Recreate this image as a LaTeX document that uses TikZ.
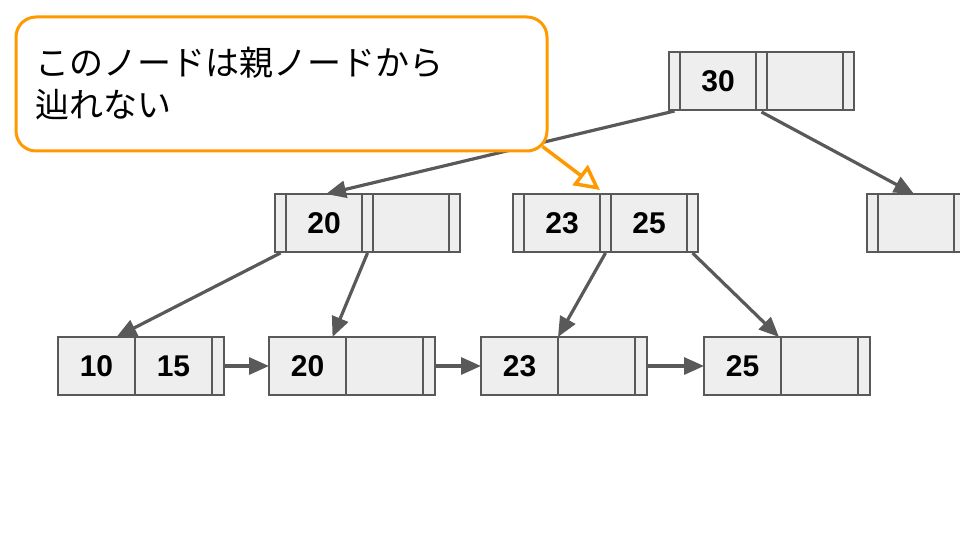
\documentclass[tikz,border=0pt]{standalone}
\usepackage{fontspec}
\setmainfont{Liberation Sans}
\newfontfamily\jpfont{Noto Sans CJK JP}
\usetikzlibrary{arrows.meta,calc}
\definecolor{linegray}{HTML}{595959}
\definecolor{cellfill}{HTML}{EEEEEE}
\definecolor{calloutorange}{HTML}{FF9900}
\tikzset{
  cell/.style={draw=linegray, line width=1.3pt, fill=cellfill, minimum height=58pt,
    inner sep=0pt, outer sep=0pt, anchor=north west,
    font=\fontsize{30}{36}\selectfont\bfseries},
  ptrcell/.style={cell, minimum width=11pt},
  keycell/.style={cell, minimum width=76pt},
  leafptr/.style={cell, minimum width=12pt},
  leafkey/.style={cell, minimum width=77pt},
  edge/.style={draw=linegray, line width=3.2pt, -{Triangle[length=20pt,width=17pt]}},
  callout/.style={draw=calloutorange, line width=3pt, fill=white, rounded corners=20pt,
    minimum width=531pt, minimum height=134pt, inner xsep=19pt, text width=493pt,
    align=left, font=\jpfont\fontsize{34}{42}\selectfont},
  hint/.style={draw=calloutorange, line width=3.5pt, -{Triangle[open,length=25pt,width=25pt]}}
}
\begin{document}
\begin{tikzpicture}[x=1pt,y=-1pt]
\useasboundingbox (0,0) rectangle (960,540);
% root
\node[ptrcell] (rp0) at (669,52) {};
\node[keycell] (rk1) at (680,52) {30};
\node[ptrcell] (rp1) at (756,52) {};
\node[keycell] (rk2) at (767,52) {};
\node[ptrcell] (rp2) at (843,52) {};
% internal A
\node[ptrcell] (ap0) at (275,194) {};
\node[keycell] (ak1) at (286,194) {20};
\node[ptrcell] (ap1) at (362,194) {};
\node[keycell] (ak2) at (373,194) {};
\node[ptrcell] (ap2) at (449,194) {};
% internal B
\node[ptrcell] (bp0) at (513,194) {};
\node[keycell] (bk1) at (524,194) {23};
\node[ptrcell] (bp1) at (600,194) {};
\node[keycell] (bk2) at (611,194) {25};
\node[ptrcell] (bp2) at (687,194) {};
% internal C
\node[ptrcell] (cp0) at (867,194) {};
\node[keycell] (ck1) at (878,194) {};
\node[ptrcell] (cp1) at (954,194) {};
% leaves
\node[leafkey] (l1a) at (58,337) {10};
\node[leafkey] (l1b) at (135,337) {15};
\node[leafptr] (l1p) at (212,337) {};
\node[leafkey] (l2a) at (269,337) {20};
\node[leafkey] (l2b) at (346,337) {};
\node[leafptr] (l2p) at (423,337) {};
\node[leafkey] (l3a) at (481,337) {23};
\node[leafkey] (l3b) at (558,337) {};
\node[leafptr] (l3p) at (635,337) {};
\node[leafkey] (l4a) at (704,337) {25};
\node[leafkey] (l4b) at (781,337) {};
\node[leafptr] (l4p) at (858,337) {};
% edges
\draw[edge] ([yshift=-1pt]rp0.south) -- ([xshift=2pt]ak1.north);
\draw[edge] ([yshift=-2pt]rp1.south) -- ([xshift=-2pt]ck1.north);
\draw[edge] ([yshift=-1pt]ap0.south) -- ([xshift=20pt]l1a.north);
\draw[edge] ([yshift=-1pt]ap1.south) -- ([xshift=25pt]l2a.north);
\draw[edge] ([yshift=-1pt]bp1.south) -- (l3a.north east);
\draw[edge] ([yshift=-1pt]bp2.south) -- ([xshift=-2pt]l4a.north east);
\draw[edge] (l1p.east) -- (l2a.west);
\draw[edge] (l2p.east) -- (l3a.west);
\draw[edge] (l3p.east) -- (l4a.west);
% callout
\node[callout] (call) at (281.5,84) {このノードは親ノードから\\辿れない};
\coordinate (hintend) at ([yshift=4pt]bp1.north west);
\draw[hint] ($(call.south east)+(-6,-6)$) -- (hintend);
\end{tikzpicture}
\end{document}
